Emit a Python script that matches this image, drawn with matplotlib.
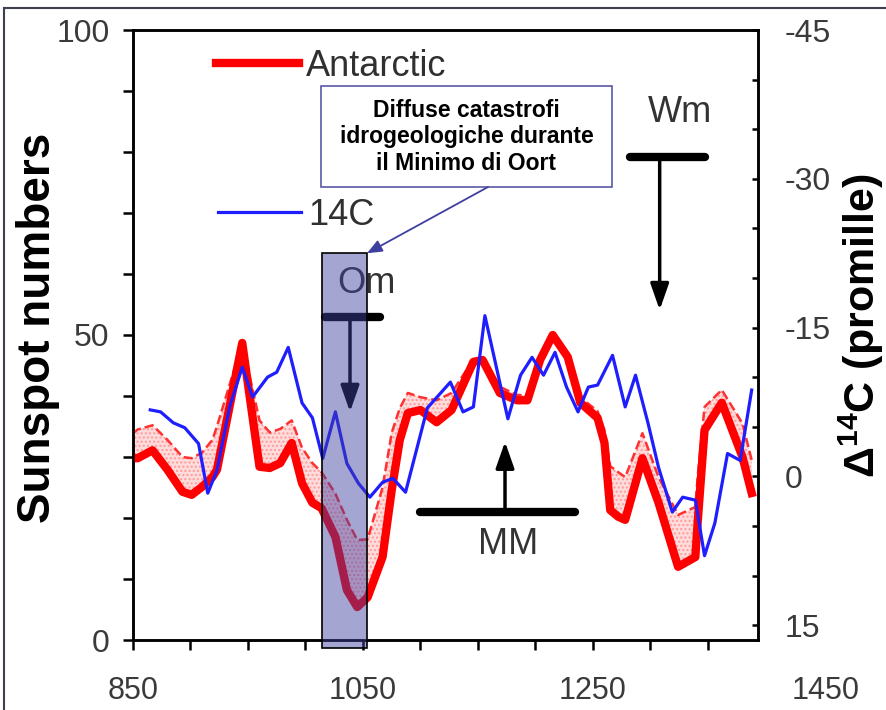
import matplotlib
matplotlib.use('Agg')
import matplotlib.pyplot as plt
from matplotlib.patches import Rectangle

plt.rcParams['font.family'] = ['Liberation Sans', 'DejaVu Sans']
plt.rcParams['mathtext.fontset'] = 'custom'
plt.rcParams['mathtext.rm'] = 'Liberation Sans'
plt.rcParams['mathtext.bf'] = 'Liberation Sans:bold'
plt.rcParams['hatch.linewidth'] = 1.0

# Antarctic sunspot reconstruction (thick line) and its upper bound (dashed)
years = [850, 854, 867, 880, 893, 901, 910, 919, 923, 945,
         960, 969, 978, 988, 997, 1006, 1014, 1026, 1036, 1045,
         1054, 1067, 1075, 1082, 1089, 1100, 1114, 1127, 1146, 1154,
         1169, 1184, 1193, 1204, 1215, 1228, 1239, 1254, 1260, 1265,
         1272, 1278, 1293, 1307, 1324, 1339, 1341, 1347, 1362, 1380,
         1388]
antarctic = [29.8, 29.8, 31.1, 27.9, 24.3, 23.8, 25.1, 26.7, 27.9, 48.7,
             28.4, 28.2, 29.0, 32.3, 25.7, 22.5, 21.6, 16.9, 8.2, 5.4,
             7.0, 13.6, 24.6, 32.8, 37.2, 37.7, 35.7, 37.7, 45.6, 45.9,
             40.5, 39.3, 39.3, 45.9, 50.0, 46.4, 38.9, 36.4, 32.3, 21.3,
             20.2, 19.7, 29.8, 22.5, 12.0, 13.6, 19.2, 34.4, 38.9, 30.0,
             24.1]
antarctic_upper = [33.9, 34.5, 35.2, 32.8, 30.0, 29.8, 30.7, 32.8, 35.0, 48.7,
                   36.0, 34.0, 34.6, 36.0, 31.5, 29.0, 27.5, 24.0, 19.7, 16.4,
                   16.5, 25.0, 34.0, 38.0, 40.5, 39.8, 39.3, 40.5, 46.0, 46.2,
                   41.5, 40.2, 40.0, 46.5, 50.0, 47.0, 39.8, 37.5, 34.4, 28.5,
                   27.5, 26.7, 33.9, 26.7, 20.5, 21.8, 26.7, 38.2, 41.0, 35.5,
                   29.5]

# 14C record in promille (right axis, inverted)
c14_years = [865, 874, 885, 895, 907, 915, 923, 934, 945, 954,
             967, 975, 985, 997, 1006, 1015, 1026, 1036, 1046, 1056,
             1067, 1076, 1087, 1106, 1126, 1137, 1146, 1156, 1176, 1187,
             1197, 1207, 1217, 1227, 1237, 1246, 1254, 1267, 1278, 1287,
             1298, 1307, 1319, 1328, 1339, 1347, 1356, 1367, 1378, 1388]
c14 = [-6.7, -6.5, -5.4, -4.9, -3.3, 1.7, -0.6, -7.0, -11.0, -8.0,
       -10.0, -10.5, -13.0, -7.4, -5.9, -1.8, -6.5, -1.3, 0.7, 2.1,
       0.6, 0.2, 1.6, -6.9, -9.5, -6.5, -7.0, -16.2, -5.8, -10.2,
       -12.0, -10.2, -12.5, -9.0, -6.5, -9.0, -9.2, -12.2, -7.0, -10.2,
       -5.3, -0.9, 3.6, 2.1, 2.4, 8.0, 4.7, -2.3, -1.6, -8.7]

x_ticks = list(range(850, 1400, 50))
x_labeled = [850, 1050, 1250]
left_ticks = list(range(0, 101, 10))
left_labeled = [0, 50, 100]
right_ticks = list(range(-45, 16, 5))
right_labeled = [-45, -30, -15, 0, 15]

oort = (1014.3, 1053.5)   # Oort minimum span (years)

W, H = 886, 710
fig = plt.figure(figsize=(W / 100, H / 100), dpi=100)
ax = fig.add_axes([133 / W, 1 - 640 / H, 625 / W, 610 / H])
ax2 = ax.twinx()

ax.fill_between(years, antarctic, antarctic_upper, facecolor='#ffdcdc',
                edgecolor='#ff9a9a', hatch='....', linewidth=0, zorder=1)
ax.plot(years, antarctic_upper, '--', color='#ff3030', lw=1.8, zorder=2)
red, = ax.plot(years, antarctic, color='#ff0000', lw=6,
               solid_joinstyle='round', zorder=3)
blue, = ax2.plot(c14_years, c14, color='#1e1eff', lw=2.3)

ax.set_xlim(850, 1393.5)
ax.set_ylim(0, 100)
ax2.set_ylim(16.5, -45)

tick_color = '#3a3a3a'
ax.set_xticks(x_ticks)
ax.set_xticklabels([str(t) if t in x_labeled else '' for t in x_ticks])
ax.set_yticks(left_ticks)
ax.set_yticklabels([str(t) if t in left_labeled else '' for t in left_ticks])
ax2.set_yticks(right_ticks)
ax2.set_yticklabels([str(t) if t in right_labeled else '' for t in right_ticks])
ax.tick_params(axis='x', direction='out', length=7, width=1.8, pad=19,
               labelsize=22, labelcolor=tick_color)
ax.tick_params(axis='y', direction='out', length=7, width=1.8, pad=10,
               labelsize=23, labelcolor=tick_color)
ax2.tick_params(axis='y', direction='in', length=4.5, width=1.8, pad=19,
                labelsize=23, labelcolor=tick_color)
for a in (ax, ax2):
    for s in a.spines.values():
        s.set_linewidth(1.8)

# last x label sits beyond the axis end
ax.text(1452, -0.084, '1450', transform=ax.get_xaxis_transform(),
        ha='center', va='center', fontsize=22, color=tick_color, clip_on=False)

fig.text(38 / W, 1 - 328 / H, 'Sunspot numbers', rotation=90, ha='center',
         va='center', fontsize=33, fontweight='bold')
fig.text(861 / W, 1 - 326 / H, r'Δ$^{\mathbf{14}}$C (promille)', rotation=90,
         ha='center', va='center', fontsize=31, fontweight='bold')

# legends
fig.legend(handles=[red], labels=['Antarctic'], loc='center left',
           bbox_to_anchor=(216 / W, 1 - 66 / H), frameon=False, borderpad=0,
           borderaxespad=0, handlelength=2.3, handletextpad=0.2, fontsize=26,
           labelcolor='#303030')
fig.legend(handles=[blue], labels=['14C'], loc='center left',
           bbox_to_anchor=(218 / W, 1 - 215 / H), frameon=False, borderpad=0,
           borderaxespad=0, handlelength=2.3, handletextpad=0.2, fontsize=26,
           labelcolor='#303030')

# minima markers
td = ax.transData
arrow = dict(arrowstyle='-|>,head_width=0.28,head_length=0.8', color='black',
             lw=2.5, mutation_scale=20, shrinkA=0, shrinkB=0)
ax2.plot([1017, 1065], [53, 53], transform=td, color='black', lw=6,
         solid_capstyle='round', zorder=4)
ax2.annotate('', xy=(1038.7, 37.4), xytext=(1038.7, 53), xycoords=td,
             textcoords=td, arrowprops=arrow, zorder=4)
ax2.text(1053, 58.5, 'Om', transform=td, ha='center', va='center',
         fontsize=26, color='#333333', zorder=4)

ax2.plot([1282, 1347], [79.2, 79.2], transform=td, color='black', lw=6,
         solid_capstyle='round', zorder=4)
ax2.annotate('', xy=(1308, 54.1), xytext=(1308, 79.2), xycoords=td,
             textcoords=td, arrowprops=arrow, zorder=4)
ax2.text(1325.7, 86.4, 'Wm', transform=td, ha='center', va='center',
         fontsize=26, color='#333333', zorder=4)

ax2.plot([1099.6, 1234.3], [21.0, 21.0], transform=td, color='black', lw=6,
         solid_capstyle='round', zorder=4)
ax2.annotate('', xy=(1173.5, 32.5), xytext=(1173.5, 21.0), xycoords=td,
             textcoords=td, arrowprops=arrow, zorder=4)
ax2.text(1176, 15.6, 'MM', transform=td, ha='center', va='center',
         fontsize=26, color='#333333', zorder=4)

# Oort minimum highlight
ax2.add_patch(Rectangle((oort[0], -1.3), oort[1] - oort[0], 64.7, transform=td,
                        facecolor=(0.25, 0.25, 0.63, 0.47), edgecolor='black',
                        lw=1.2, clip_on=False, zorder=6))

# callout
ax2.add_patch(Rectangle((321 / W, 1 - 187 / H), 291 / W, 101 / H,
                        transform=fig.transFigure, facecolor='white',
                        edgecolor='#5a5aa8', lw=1.2, clip_on=False, zorder=7))
ax2.text(466.5 / W, 1 - 137 / H,
         'Diffuse catastrofi\nidrogeologiche durante\nil Minimo di Oort',
         transform=fig.transFigure, ha='center', va='center', fontsize=16.5,
         fontweight='bold', linespacing=1.2, zorder=8)
ax2.annotate('', xy=(oort[1], 63.4), xycoords=td,
             xytext=(488 / W, 1 - 187 / H), textcoords='figure fraction',
             arrowprops=dict(arrowstyle='-|>,head_width=0.25,head_length=0.6',
                             color='#3f3f9f', lw=1.3, mutation_scale=15,
                             shrinkA=0, shrinkB=0), zorder=7)

# picture frame
fig.add_artist(Rectangle((4 / W, -0.05), 1.1, 1 - 8 / H + 0.05,
                         transform=fig.transFigure, fill=False,
                         edgecolor='#3c4050', lw=1.5))

fig.savefig('out.png', dpi=100)
